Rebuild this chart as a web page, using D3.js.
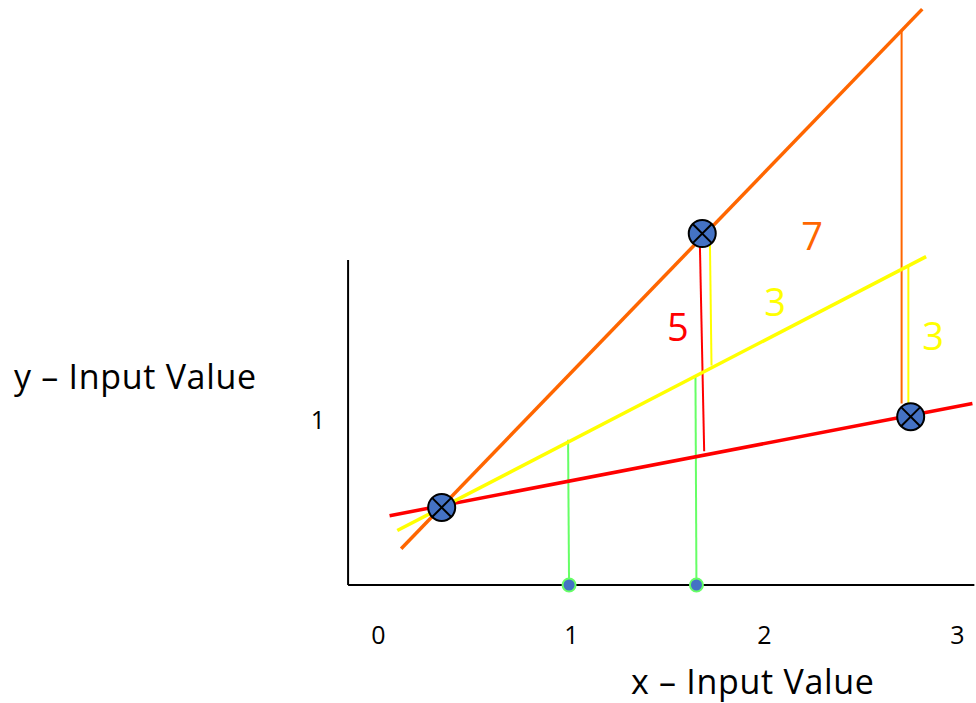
<!DOCTYPE html>
<html>
<head>
<meta charset="utf-8">
<script src="https://cdn.jsdelivr.net/npm/d3@7"></script>
<style>
  body { margin: 0; background: #fff; }
  text { font-family: "Open Sans", sans-serif; }
</style>
</head>
<body>
<script>
var width = 976, height = 703;

// tick labels
var xTicks = [0, 1, 2, 3];
var yTicks = [1];

// three fitted lines, given by their two end points (data units)
var lineNames = ["red", "yellow", "orange"];
var lineStarts = [[0.06, 0.42], [0.10, 0.33], [0.12, 0.22]];
var lineEnds = [[3.08, 1.10], [2.84, 1.99], [2.82, 3.49]];

// observed points
var pointX = [0.33, 1.68, 2.76];
var pointY = [0.47, 2.13, 1.02];

// inputs on the x axis and where they hit the yellow line
var inputX = [0.99, 1.65];
var inputTop = [0.88, 1.27];

// residual segments: x at top, x at bottom, top, bottom, colour
var segX = [1.668, 1.72, 2.713, 2.748];
var segX2 = [1.69, 1.728, 2.713, 2.748];
var segTop = [2.05, 2.06, 3.36, 1.93];
var segBottom = [0.81, 1.33, 1.10, 1.10];
var segColor = ["red", "yellow", "orange", "yellow"];

// error labels
var labelText = ["5", "3", "7", "3"];
var labelX = [1.554, 2.057, 2.249, 2.876];
var labelY = [1.56, 1.715, 2.115, 1.51];
var labelColor = ["red", "yellow", "orange", "yellow"];

var colors = { red: "#ff0000", yellow: "#ffff00", orange: "#ff6600", green: "#66ff66" };

var x = d3.scaleLinear([0, 3], [378, 957]);
var y = d3.scaleLinear([0, 1], [585, 420]);

const svg = d3.select("body")
    .append("svg")
    .attr("width", width)
    .attr("height", height);

// axes
svg.append("line")
    .attr("x1", x(-0.155)).attr("x2", x(3.09))
    .attr("y1", y(0)).attr("y2", y(0))
    .attr("stroke", "#000").attr("stroke-width", 2);
svg.append("line")
    .attr("x1", x(-0.155)).attr("x2", x(-0.155))
    .attr("y1", y(0)).attr("y2", y(1.97))
    .attr("stroke", "#000").attr("stroke-width", 2);

svg.append("g")
    .attr("transform", `translate(0, ${y(0) + 38})`)
    .call(d3.axisBottom(x).tickValues(xTicks).tickSize(0).tickFormat(d3.format("d")))
    .call(g => g.select(".domain").remove())
    .call(g => g.selectAll("text")
        .attr("font-family", "'Open Sans', sans-serif")
        .attr("font-size", 25)
        .attr("fill", "#000"));

svg.append("g")
    .attr("transform", `translate(${x(-0.155) - 20}, 0)`)
    .call(d3.axisLeft(y).tickValues(yTicks).tickSize(0).tickFormat(d3.format("d")))
    .call(g => g.select(".domain").remove())
    .call(g => g.selectAll("text")
        .attr("font-family", "'Open Sans', sans-serif")
        .attr("font-size", 25)
        .attr("fill", "#000"));

svg.append("text")
    .attr("x", 14).attr("y", 389)
    .attr("font-size", 34)
    .attr("letter-spacing", 0.7)
    .text("y – Input Value");
svg.append("text")
    .attr("x", 631).attr("y", 694)
    .attr("font-size", 34)
    .attr("letter-spacing", 0.7)
    .text("x – Input Value");

// green drop lines from the yellow line to the inputs
svg.append("g")
    .selectAll("line")
    .data(inputX)
    .join("line")
    .attr("x1", (d, i) => x(d) - 1).attr("x2", d => x(d))
    .attr("y1", (d, i) => y(inputTop[i])).attr("y2", y(0))
    .attr("stroke", colors.green).attr("stroke-width", 2);

// residual segments
svg.append("g")
    .selectAll("line")
    .data(segX)
    .join("line")
    .attr("x1", d => x(d)).attr("x2", (d, i) => x(segX2[i]))
    .attr("y1", (d, i) => y(segTop[i])).attr("y2", (d, i) => y(segBottom[i]))
    .attr("stroke", (d, i) => colors[segColor[i]]).attr("stroke-width", 2);

// fitted lines
svg.append("g")
    .selectAll("line")
    .data(lineNames)
    .join("line")
    .attr("x1", (d, i) => x(lineStarts[i][0])).attr("y1", (d, i) => y(lineStarts[i][1]))
    .attr("x2", (d, i) => x(lineEnds[i][0])).attr("y2", (d, i) => y(lineEnds[i][1]))
    .attr("stroke", d => colors[d])
    .attr("stroke-width", 3.5);

// input dots
svg.append("g")
    .selectAll("circle")
    .data(inputX)
    .join("circle")
    .attr("cx", d => x(d)).attr("cy", y(0))
    .attr("r", 6.5)
    .attr("fill", "#4472c4")
    .attr("stroke", colors.green).attr("stroke-width", 2);

// observed points, crossed circles
const pts = svg.append("g")
    .selectAll("g")
    .data(pointX)
    .join("g")
    .attr("transform", (d, i) => `translate(${x(d)}, ${y(pointY[i])})`);
pts.append("circle")
    .attr("r", 13.5)
    .attr("fill", "#4472c4")
    .attr("stroke", "#000").attr("stroke-width", 2);
var k = 13.5 * Math.SQRT1_2;
pts.append("path")
    .attr("d", `M${-k},${-k}L${k},${k}M${-k},${k}L${k},${-k}`)
    .attr("stroke", "#000").attr("stroke-width", 2);

// labels
svg.append("g")
    .selectAll("text")
    .data(labelText)
    .join("text")
    .attr("x", (d, i) => x(labelX[i])).attr("y", (d, i) => y(labelY[i]))
    .attr("text-anchor", "middle")
    .attr("dy", "0.36em")
    .attr("font-size", 38)
    .attr("fill", (d, i) => colors[labelColor[i]])
    .text(d => d);
</script>
</body>
</html>
